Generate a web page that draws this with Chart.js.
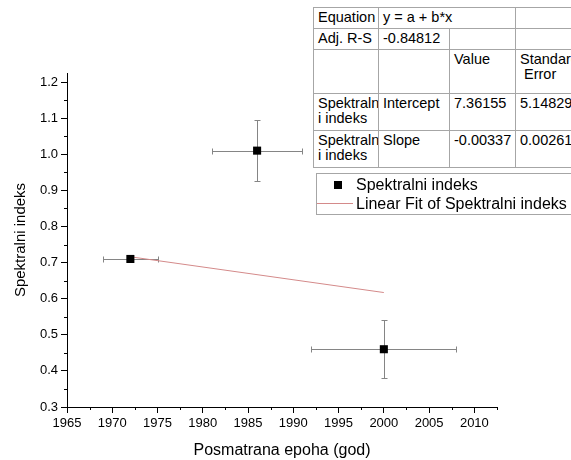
<!DOCTYPE html>
<html>
<head>
<meta charset="utf-8">
<script src="https://cdn.jsdelivr.net/npm/chart.js@4.4.0/dist/chart.umd.min.js"></script>
<style>
  html, body { margin: 0; padding: 0; background: #fff; overflow: hidden; }
  #wrap { position: relative; width: 571px; height: 460px; overflow: hidden;
          font-family: "Liberation Sans", Arial, sans-serif; color: #000; }
  #fit-table { position: absolute; left: 313px; top: 7px; border-collapse: collapse;
               table-layout: fixed; width: 290px; font-size: 14.5px; background: #fff; }
  #fit-table td { border: 1px solid #a6a6a6; padding: 2px 3px 0 4px; vertical-align: top;
                  line-height: 15px; white-space: nowrap; overflow: hidden; }
  #legend { position: absolute; left: 316px; top: 173px; width: 270px; height: 40px;
            border: 1px solid #a6a6a6; background: #fff; font-size: 16px; }
  #legend .txt { position: absolute; left: 39px; line-height: 18px; white-space: nowrap; }
  #legend .sq { position: absolute; left: 17px; top: 7px; width: 8px; height: 8px; background: #000; }
  #legend .ln { position: absolute; left: 0; top: 29px; width: 36px; height: 1px; background: #d48a8a; }
</style>
</head>
<body>
<div id="wrap">
  <canvas id="chart" width="571" height="460"></canvas>
  <table id="fit-table"></table>
  <div id="legend">
    <span class="sq"></span><span class="txt" style="top:2px">Spektralni indeks</span>
    <span class="ln"></span><span class="txt" style="top:21px">Linear Fit of Spektralni indeks</span>
  </div>
</div>
<script>
// measured points (year, spectral index) with error bars
const YEARS      = [1972, 1986, 2000];
const SPEC_INDEX = [0.71, 1.01, 0.46];
const YEAR_ERR   = [3, 5, 8];
const INDEX_ERR  = [0, 0.085, 0.08];

// linear fit end points
const FIT_YEARS = [1972, 2000];
const FIT_INDEX = [0.716, 0.617];

const X_TICKS = [1965, 1970, 1975, 1980, 1985, 1990, 1995, 2000, 2005, 2010];
const Y_TICKS = [0.3, 0.4, 0.5, 0.6, 0.7, 0.8, 0.9, 1.0, 1.1, 1.2];

// fit result table (Origin style)
const TABLE_COLS = [65, 71, 66, 88];
const TABLE_ROWS = [
  { h: 21, cells: [['Equation'], ['y = a + b*x', 2], ['']] },
  { h: 21, cells: [['Adj. R-S'], ['-0.84812'], [''], ['']] },
  { h: 44, cells: [[''], [''], ['Value'], ['Standard<br>&nbsp;Error']] },
  { h: 37, cells: [['Spektraln<br>i indeks'], ['Intercept'], ['7.36155'], ['5.14829']] },
  { h: 37, cells: [['Spektraln<br>i indeks'], ['Slope'], ['-0.00337'], ['0.00261']] },
];

const FONT = '"Liberation Sans", Arial, sans-serif';

const table = document.getElementById('fit-table');
table.innerHTML = '<colgroup>' + TABLE_COLS.map(w => `<col style="width:${w}px">`).join('') + '</colgroup>' +
  TABLE_ROWS.map(r => `<tr style="height:${r.h}px">` +
    r.cells.map(c => `<td${c[1] ? ` colspan="${c[1]}"` : ''}>${c[0]}</td>`).join('') + '</tr>').join('');

const errorBars = {
  id: 'errorBars',
  beforeDatasetsDraw(chart) {
    const { ctx, scales: { x, y } } = chart;
    const seg = (x0, y0, x1, y1) => {
      ctx.beginPath();
      ctx.moveTo(x0, y0);
      ctx.lineTo(x1, y1);
      ctx.stroke();
    };
    const cap = 3;
    ctx.save();
    ctx.strokeStyle = '#858585';
    ctx.lineWidth = 1;
    YEARS.forEach((yr, i) => {
      const px = Math.round(x.getPixelForValue(yr)) + 0.5;
      const py = Math.round(y.getPixelForValue(SPEC_INDEX[i])) + 0.5;
      if (YEAR_ERR[i]) {
        const x0 = Math.round(x.getPixelForValue(yr - YEAR_ERR[i])) + 0.5;
        const x1 = Math.round(x.getPixelForValue(yr + YEAR_ERR[i])) + 0.5;
        seg(x0, py, x1, py);
        seg(x0, py - cap, x0, py + cap);
        seg(x1, py - cap, x1, py + cap);
      }
      if (INDEX_ERR[i]) {
        const y0 = Math.round(y.getPixelForValue(SPEC_INDEX[i] - INDEX_ERR[i])) + 0.5;
        const y1 = Math.round(y.getPixelForValue(SPEC_INDEX[i] + INDEX_ERR[i])) + 0.5;
        seg(px, y0, px, y1);
        seg(px - cap, y0, px + cap, y0);
        seg(px - cap, y1, px + cap, y1);
      }
    });
    ctx.restore();
  }
};

// half-step minor ticks on both axes
const minorTicks = {
  id: 'minorTicks',
  afterDraw(chart) {
    const { ctx, scales: { x, y } } = chart;
    const len = 3;
    ctx.save();
    ctx.strokeStyle = '#000';
    ctx.lineWidth = 1;
    const xs = X_TICKS[1] - X_TICKS[0];
    for (let v = X_TICKS[0] + xs / 2; v <= x.max + 1e-9; v += xs) {
      const px = Math.round(x.getPixelForValue(v)) + 0.5;
      ctx.beginPath();
      ctx.moveTo(px, x.top);
      ctx.lineTo(px, x.top + len);
      ctx.stroke();
    }
    const ys = Y_TICKS[1] - Y_TICKS[0];
    for (let v = Y_TICKS[0] + ys / 2; v <= y.max + 1e-9; v += ys) {
      const py = Math.round(y.getPixelForValue(v)) + 0.5;
      ctx.beginPath();
      ctx.moveTo(y.right - len, py);
      ctx.lineTo(y.right, py);
      ctx.stroke();
    }
    ctx.restore();
  }
};

const axisStyle = {
  grid: { drawOnChartArea: false, tickLength: 6, color: '#000' },
  border: { color: '#000', width: 1 },
};

new Chart(document.getElementById('chart').getContext('2d'), {
  data: {
    datasets: [
      {
        type: 'scatter',
        label: 'Spektralni indeks',
        data: YEARS.map((v, i) => ({ x: v, y: SPEC_INDEX[i] })),
        pointStyle: 'rect',
        pointRadius: 5.7,
        backgroundColor: '#000',
        borderColor: '#000',
        borderWidth: 0,
        order: 0,
      },
      {
        type: 'line',
        label: 'Linear Fit of Spektralni indeks',
        data: FIT_YEARS.map((v, i) => ({ x: v, y: FIT_INDEX[i] })),
        borderColor: '#d48a8a',
        borderWidth: 1,
        pointRadius: 0,
        fill: false,
        order: 1,
      },
    ],
  },
  options: {
    responsive: false,
    animation: false,
    devicePixelRatio: 1,
    layout: { padding: { top: 73, right: 74, left: 0, bottom: 0 } },
    plugins: { legend: { display: false }, tooltip: { enabled: false } },
    scales: {
      x: {
        ...axisStyle,
        type: 'linear',
        min: 1965,
        max: 2012.5,
        afterBuildTicks: s => { s.ticks = X_TICKS.map(v => ({ value: v })); },
        afterFit: s => { s.height = 53; },
        ticks: { color: '#000', font: { family: FONT, size: 13 }, padding: 3, maxRotation: 0, autoSkip: false,
                 callback: v => String(v) },
        title: { display: true, text: 'Posmatrana epoha (god)', color: '#000',
                 font: { family: FONT, size: 16, lineHeight: 1 }, padding: { top: 0, bottom: 1 } },
      },
      y: {
        ...axisStyle,
        type: 'linear',
        min: 0.3,
        max: 1.225,
        afterBuildTicks: s => { s.ticks = Y_TICKS.map(v => ({ value: v })); },
        afterFit: s => { s.width = 67; },
        ticks: { color: '#000', font: { family: FONT, size: 13 }, padding: 3, autoSkip: false,
                 callback: v => v.toFixed(1) },
        title: { display: true, text: 'Spektralni indeks', color: '#000',
                 font: { family: FONT, size: 15, lineHeight: 1 }, padding: { top: 13, bottom: 0 } },
      },
    },
  },
  plugins: [errorBars, minorTicks],
});
</script>
</body>
</html>
